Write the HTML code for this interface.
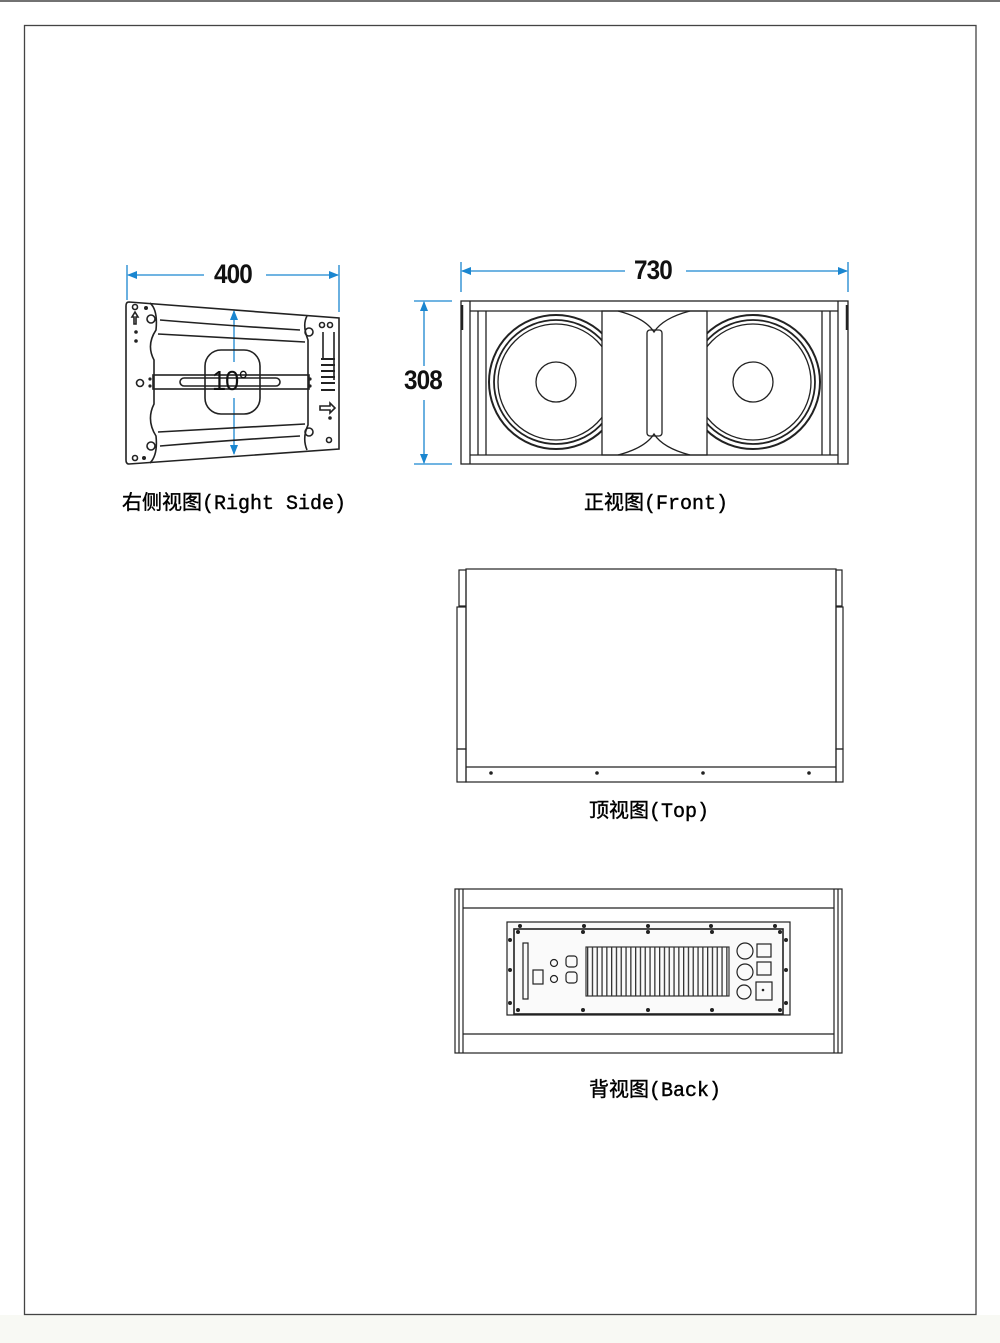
<!DOCTYPE html>
<html><head><meta charset="utf-8"><style>
html,body{margin:0;padding:0;background:#fff;}
body{width:1000px;height:1343px;overflow:hidden;position:relative;}
.lbl{position:absolute;font-family:"Liberation Mono","Noto Sans CJK SC",monospace;font-size:20px;color:#000;white-space:nowrap;-webkit-text-stroke:0.4px #000;}
.lbl span{font-family:"Noto Sans CJK SC",sans-serif;}
.dim{position:absolute;font-family:"Liberation Sans",sans-serif;font-weight:bold;font-size:27px;color:#111;letter-spacing:-1px;transform:scaleX(0.9);transform-origin:left top;}
</style></head><body>
<svg width="1000" height="1343" style="position:absolute;left:0;top:0" xmlns="http://www.w3.org/2000/svg">
<defs>
<marker id="ar" markerWidth="10" markerHeight="8" refX="9" refY="4" orient="auto" markerUnits="userSpaceOnUse"><path d="M0,0 L10,4 L0,8 z" fill="#1a86d0"/></marker>
<pattern id="fins" x="587" y="0" width="4.8" height="10" patternUnits="userSpaceOnUse"><rect x="0" y="0" width="1.3" height="10" fill="#333"/></pattern>
</defs>
<rect x="0" y="1315" width="1000" height="28" fill="#f8f9f4"/>
<line x1="0" y1="1" x2="1000" y2="1" stroke="#444" stroke-width="1.5"/>
<rect x="24.5" y="25.5" width="951.5" height="1289" fill="none" stroke="#444" stroke-width="1.3"/>

<g stroke="#1a86d0" stroke-width="1.3" fill="none">
<line x1="127" y1="265" x2="127" y2="300"/><line x1="339" y1="265" x2="339" y2="312"/>
<line x1="204" y1="275" x2="128" y2="275" marker-end="url(#ar)"/>
<line x1="266" y1="275" x2="338" y2="275" marker-end="url(#ar)"/>
<line x1="461" y1="262" x2="461" y2="292"/><line x1="848" y1="262" x2="848" y2="292"/>
<line x1="625" y1="271" x2="462" y2="271" marker-end="url(#ar)"/>
<line x1="686" y1="271" x2="847" y2="271" marker-end="url(#ar)"/>
<line x1="414" y1="301" x2="452" y2="301"/><line x1="414" y1="464" x2="452" y2="464"/>
<line x1="424" y1="366" x2="424" y2="302" marker-end="url(#ar)"/>
<line x1="424" y1="400" x2="424" y2="463" marker-end="url(#ar)"/>
<line x1="234" y1="362" x2="234" y2="311" marker-end="url(#ar)"/>
<line x1="234" y1="398" x2="234" y2="454" marker-end="url(#ar)"/>
</g>

<!-- SIDE VIEW -->
<g stroke="#222" stroke-width="1.6" fill="none">
<path d="M129,302 L339,318 L339,449 L129,464 Q126,464 126,460 L126,306 Q126,302 129,302 z"/>
<path d="M150,303 Q158,310 156,330 Q146,345 154,360 L154,404 Q146,420 156,436 Q158,455 150,463"/>
<path d="M307,316 Q302,325 308,340 L308,425 Q302,438 307,450"/>
<path d="M160,320 Q232,326 300,330"/><path d="M160,446 Q232,440 300,436"/>
<path d="M158,334 Q232,338 305,342"/><path d="M158,432 Q232,428 305,424"/>
<rect x="153" y="375" width="156" height="14"/>
<rect x="180" y="378" width="100" height="8" rx="4"/>
<rect x="205" y="350" width="55" height="64" rx="16"/>
<circle cx="151" cy="319" r="4"/><circle cx="151" cy="446" r="4"/><circle cx="140" cy="383" r="3.5"/>
<circle cx="309" cy="332" r="4"/><circle cx="309" cy="432" r="4"/>
<circle cx="135" cy="307" r="2.5"/><circle cx="135" cy="458" r="2.5"/><circle cx="322" cy="325" r="2.5"/><circle cx="330" cy="325" r="2.5"/><circle cx="329" cy="440" r="2.5"/>
<line x1="323" y1="332" x2="323" y2="360"/><line x1="334" y1="332" x2="334" y2="380"/>
<path d="M320,406 L330,406 L330,403 L335,408 L330,413 L330,410 L320,410 z"/>
<path d="M135,312 L132,317 L134,317 L134,324 L136,324 L136,317 L138,317 z"/>
</g>
<g fill="#222">
<circle cx="146" cy="308" r="2"/><circle cx="136" cy="332" r="1.8"/><circle cx="136" cy="341" r="1.8"/><circle cx="144" cy="458" r="2"/>
<circle cx="150" cy="379" r="1.6"/><circle cx="150" cy="386" r="1.6"/><circle cx="310" cy="379" r="1.6"/><circle cx="310" cy="386" r="1.6"/>
<circle cx="330" cy="418" r="1.8"/>
<rect x="321" y="358" width="14" height="2"/><rect x="321" y="364" width="14" height="2"/><rect x="321" y="370" width="14" height="2"/><rect x="321" y="376" width="14" height="2"/><rect x="321" y="382" width="14" height="2"/><rect x="321" y="389" width="14" height="2"/>
</g>

<!-- FRONT VIEW -->
<g stroke="#222" stroke-width="1.3" fill="none">
<circle cx="556" cy="382" r="67" stroke-width="2"/><circle cx="556" cy="382" r="62" stroke-width="1.8"/><circle cx="556" cy="382" r="58"/><circle cx="556" cy="382" r="20"/>
<circle cx="753" cy="382" r="67" stroke-width="2"/><circle cx="753" cy="382" r="62" stroke-width="1.8"/><circle cx="753" cy="382" r="58"/><circle cx="753" cy="382" r="20"/>
<rect x="602" y="311" width="105" height="144" fill="#fff"/>
<rect x="461" y="301" width="387" height="163"/>
<line x1="470" y1="301" x2="470" y2="464"/><line x1="838" y1="301" x2="838" y2="464"/>
<line x1="470" y1="311" x2="838" y2="311"/><line x1="470" y1="455" x2="838" y2="455"/>
<line x1="478" y1="311" x2="478" y2="455"/><line x1="486" y1="311" x2="486" y2="455"/>
<line x1="822" y1="311" x2="822" y2="455"/><line x1="830" y1="311" x2="830" y2="455"/>
<path d="M618,311 Q645,318 654,332 Q663,318 690,311"/>
<path d="M618,455 Q645,448 654,434 Q663,448 690,455"/>
<rect x="647" y="330" width="15" height="106" rx="3"/>
<line x1="462" y1="305" x2="462" y2="330" stroke-width="2.5"/><line x1="847" y1="305" x2="847" y2="330" stroke-width="2.5"/>
</g>

<!-- TOP VIEW -->
<g stroke="#222" stroke-width="1.2" fill="none">
<rect x="466" y="569" width="370" height="213"/>
<line x1="466" y1="767" x2="836" y2="767"/>
<rect x="459" y="570" width="7" height="36"/><rect x="457" y="607" width="9" height="142"/><rect x="457" y="749" width="9" height="33"/>
<rect x="836" y="570" width="6" height="36"/><rect x="836" y="607" width="7" height="142"/><rect x="836" y="749" width="7" height="33"/>
</g>
<g fill="#222"><circle cx="491" cy="773" r="1.8"/><circle cx="597" cy="773" r="1.8"/><circle cx="703" cy="773" r="1.8"/><circle cx="809" cy="773" r="1.8"/></g>

<!-- BACK VIEW -->
<g stroke="#222" stroke-width="1.2" fill="none">
<rect x="455" y="889" width="387" height="164"/>
<line x1="463" y1="908" x2="834" y2="908"/><line x1="463" y1="1034" x2="834" y2="1034"/>
<line x1="463" y1="889" x2="463" y2="1053"/><line x1="834" y1="889" x2="834" y2="1053"/>
<line x1="459" y1="889" x2="459" y2="1053"/><line x1="838" y1="889" x2="838" y2="1053"/>
<rect x="507" y="922" width="283" height="93" fill="#fafafa"/>
<rect x="514" y="929" width="269" height="85" stroke-width="1.6"/>
<rect x="586" y="947" width="143" height="49" fill="url(#fins)" stroke="#333"/>
<rect x="523" y="943" width="5" height="56"/>
<rect x="533" y="970" width="10" height="14"/>
<circle cx="554" cy="963" r="3.5"/><circle cx="554" cy="979" r="3.5"/>
<rect x="566" y="956" width="11" height="11" rx="3"/><rect x="566" y="972" width="11" height="11" rx="3"/>
<circle cx="745" cy="951" r="8"/><circle cx="745" cy="972" r="8"/><circle cx="744" cy="992" r="7"/>
<rect x="757" y="944" width="14" height="13"/><rect x="757" y="962" width="14" height="13"/>
<rect x="756" y="982" width="16" height="18"/>
</g>
<g fill="#222">
<circle cx="520" cy="926" r="2"/><circle cx="584" cy="926" r="2"/><circle cx="648" cy="926" r="2"/><circle cx="711" cy="926" r="2"/><circle cx="775" cy="926" r="2"/>
<circle cx="518" cy="932" r="2"/><circle cx="583" cy="932" r="2"/><circle cx="648" cy="932" r="2"/><circle cx="712" cy="932" r="2"/><circle cx="780" cy="932" r="2"/>
<circle cx="518" cy="1010" r="2"/><circle cx="583" cy="1010" r="2"/><circle cx="648" cy="1010" r="2"/><circle cx="712" cy="1010" r="2"/><circle cx="780" cy="1010" r="2"/>
<circle cx="510" cy="940" r="2"/><circle cx="510" cy="970" r="2"/><circle cx="510" cy="1003" r="2"/>
<circle cx="786" cy="940" r="2"/><circle cx="786" cy="970" r="2"/><circle cx="786" cy="1003" r="2"/>
<circle cx="763" cy="990" r="1.3"/>
</g>
</svg>

<div class="dim" style="left:214px;top:259px;">400</div>
<div class="dim" style="left:634px;top:255px;">730</div>
<div class="dim" style="left:404px;top:365px;">308</div>
<div class="dim" style="left:212px;top:365px;font-weight:normal;font-size:28px;">10°</div>

<div class="lbl" style="left:122px;top:486px;"><span>右侧视图</span>(Right Side)</div>
<div class="lbl" style="left:584px;top:486px;"><span>正视图</span>(Front)</div>
<div class="lbl" style="left:589px;top:794px;"><span>顶视图</span>(Top)</div>
<div class="lbl" style="left:589px;top:1073px;"><span>背视图</span>(Back)</div>
</body></html>
